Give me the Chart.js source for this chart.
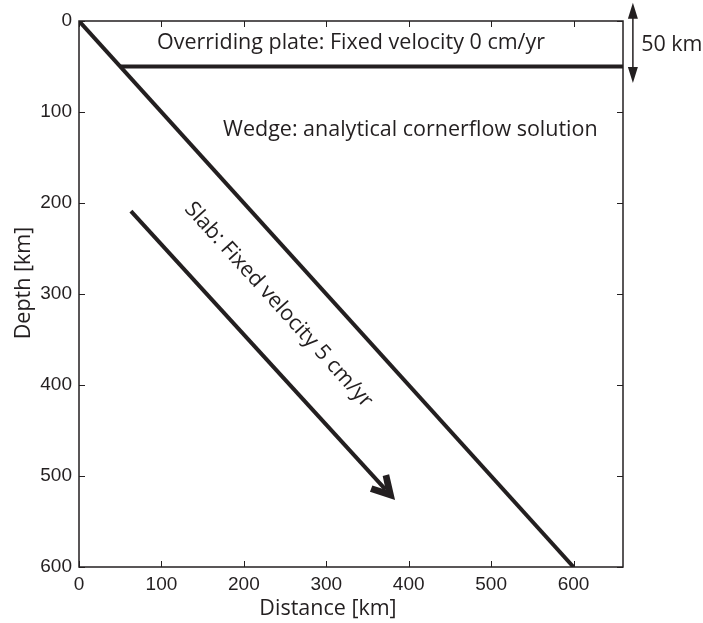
<!DOCTYPE html>
<html>
<head>
<meta charset="utf-8">
<script src="https://cdn.jsdelivr.net/npm/chart.js@4.4.1/dist/chart.umd.min.js"></script>
<style>
  html, body { margin: 0; padding: 0; background: #fff; }
  #wrap { width: 703px; height: 623px; }
</style>
</head>
<body>
<div id="wrap"><canvas id="chart"></canvas></div>
<script>
// axis ticks
const xTicks = [0, 100, 200, 300, 400, 500, 600];
const yTicks = [0, 100, 200, 300, 400, 500, 600];

// slab top surface, base of the overriding plate, slab motion arrow (km)
const slabX = [0, 600];
const slabY = [0, 600];
const plateX = [50, 660];
const plateY = [50, 50];
const arrowX = [63, 372];
const arrowY = [209, 515];

// 50 km thickness marker (outside the axes)
const kmX = 672;
const kmY = [-20, 68];

const ink = "#231f20";
const textFont = "'Open Sans', sans-serif";
const tickFont = "'Liberation Sans', Arial, sans-serif";

const toPts = (xs, ys) => xs.map((x, i) => ({ x: x, y: ys[i] }));

function line(data) {
  return {
    data: data,
    showLine: true,
    borderColor: ink,
    borderWidth: 4,
    pointRadius: 0,
    borderCapStyle: "butt",
  };
}

const extras = {
  id: "extras",
  afterDraw(chart) {
    const ctx = chart.ctx;
    const a = chart.chartArea;
    const xs = chart.scales.x;
    const ys = chart.scales.y;
    const px = (v) => xs.getPixelForValue(v);
    const py = (v) => ys.getPixelForValue(v);

    ctx.save();
    // box
    ctx.strokeStyle = ink;
    ctx.lineWidth = 1.5;
    ctx.strokeRect(a.left, a.top, a.right - a.left, a.bottom - a.top);
    // inward ticks on all sides
    ctx.lineWidth = 1;
    ctx.beginPath();
    xTicks.forEach((v) => {
      const x = Math.round(px(v)) + 0.5;
      ctx.moveTo(x, a.bottom); ctx.lineTo(x, a.bottom - 6);
      ctx.moveTo(x, a.top); ctx.lineTo(x, a.top + 6);
    });
    yTicks.forEach((v) => {
      const y = Math.round(py(v)) + 0.5;
      ctx.moveTo(a.left, y); ctx.lineTo(a.left + 6, y);
      ctx.moveTo(a.right, y); ctx.lineTo(a.right - 6, y);
    });
    ctx.stroke();

    // slab arrow head (chevron), notch at the end of the shaft
    const x0 = px(arrowX[0]), y0 = py(arrowY[0]);
    const x1 = px(arrowX[1]), y1 = py(arrowY[1]);
    const ang = Math.atan2(y1 - y0, x1 - x0);
    ctx.save();
    ctx.translate(x1, y1);
    ctx.rotate(ang);
    ctx.fillStyle = ink;
    ctx.beginPath();
    ctx.moveTo(14, 0);
    ctx.lineTo(-9, -13);
    ctx.lineTo(-12, -7);
    ctx.lineTo(0, 0);
    ctx.lineTo(-12, 7);
    ctx.lineTo(-9, 13);
    ctx.closePath();
    ctx.fill();
    ctx.restore();

    // 50 km double arrow
    const kx = px(kmX);
    const kt = py(kmY[0]), kb = py(kmY[1]);
    ctx.strokeStyle = ink;
    ctx.fillStyle = ink;
    ctx.lineWidth = 1.5;
    ctx.beginPath();
    ctx.moveTo(kx, kt + 10); ctx.lineTo(kx, kb - 10);
    ctx.stroke();
    ctx.beginPath();
    ctx.moveTo(kx, kt); ctx.lineTo(kx - 5, kt + 16); ctx.lineTo(kx + 5, kt + 16); ctx.closePath();
    ctx.moveTo(kx, kb); ctx.lineTo(kx - 5, kb - 16); ctx.lineTo(kx + 5, kb - 16); ctx.closePath();
    ctx.fill();

    // text
    ctx.fillStyle = ink;
    ctx.font = "21.5px " + textFont;
    ctx.textBaseline = "middle";
    ctx.textAlign = "center";
    ctx.fillText("Overriding plate: Fixed velocity 0 cm/yr", px(330), py(24));
    ctx.fillText("Wedge: analytical cornerflow solution", px(402), py(120));
    ctx.textAlign = "left";
    ctx.fillText("50 km", px(682), py(26));

    const slabAng = Math.atan2(py(slabY[1]) - py(slabY[0]), px(slabX[1]) - px(slabX[0]));
    ctx.save();
    ctx.translate(px(242), py(312));
    ctx.rotate(slabAng);
    ctx.textAlign = "center";
    ctx.fillText("Slab: Fixed velocity 5 cm/yr", 0, 0);
    ctx.restore();

    // axis titles
    ctx.textAlign = "center";
    ctx.fillText("Distance [km]", 328, 609);
    ctx.save();
    ctx.translate(24, 283);
    ctx.rotate(-Math.PI / 2);
    ctx.fillText("Depth [km]", 0, 0);
    ctx.restore();
    ctx.restore();
  },
};

new Chart(document.getElementById("chart").getContext("2d"), {
  type: "scatter",
  data: {
    datasets: [
      line(toPts(slabX, slabY)),
      line(toPts(plateX, plateY)),
      line(toPts(arrowX, arrowY)),
    ],
  },
  options: {
    responsive: true,
    maintainAspectRatio: false,
    animation: false,
    layout: { padding: { top: 21, right: 80, bottom: 0, left: 0 } },
    plugins: { legend: { display: false }, tooltip: { enabled: false } },
    scales: {
      x: {
        type: "linear",
        min: 0,
        max: 660,
        afterBuildTicks: (s) => { s.ticks = xTicks.map((v) => ({ value: v })); },
        afterFit: (s) => { s.height = 56; },
        grid: { display: false, drawTicks: false },
        border: { display: false },
        ticks: { color: ink, font: { family: tickFont, size: 19 }, padding: 6, maxRotation: 0, autoSkip: false },
      },
      y: {
        type: "linear",
        reverse: true,
        min: 0,
        max: 600,
        afterBuildTicks: (s) => { s.ticks = yTicks.map((v) => ({ value: v })); },
        afterFit: (s) => { s.width = 79; },
        grid: { display: false, drawTicks: false },
        border: { display: false },
        ticks: { color: ink, font: { family: tickFont, size: 19 }, padding: 7, autoSkip: false },
      },
    },
  },
  plugins: [extras],
});
</script>
</body>
</html>
